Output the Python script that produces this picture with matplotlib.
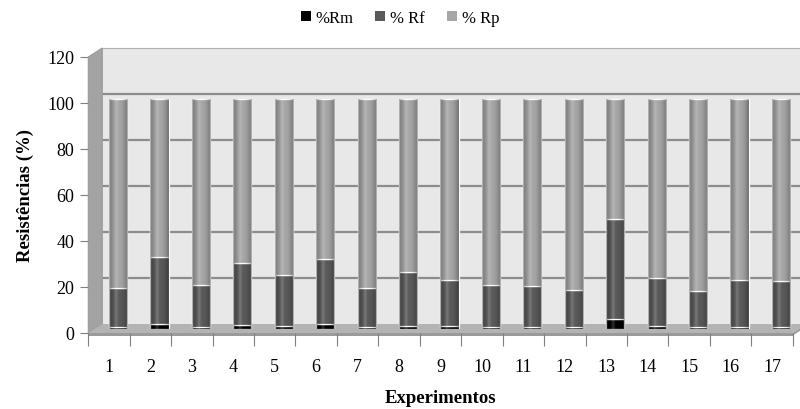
import numpy as np
import matplotlib
matplotlib.use("Agg")
import matplotlib.pyplot as plt
from matplotlib.patches import Polygon, Patch

# ---- data ----
experiments = [str(i) for i in range(1, 18)]
rm = [1.0, 2.3, 1.0, 1.8, 1.2, 2.0, 1.0, 1.5, 1.2, 1.0, 1.0, 0.8, 4.5, 1.2, 1.0, 1.0, 1.0]
rf_top = [17.7, 31.4, 19.2, 28.7, 23.5, 30.4, 17.8, 24.9, 21.4, 19.2, 18.8, 16.8, 47.8, 22.0, 16.4, 21.2, 21.0]
rf = [t - m for t, m in zip(rf_top, rm)]
rp = [100 - t for t in rf_top]
series_names = ["%Rm", "% Rf", "% Rp"]
series_colors = ["#000000", "#5a5a5a", "#a6a6a6"]
yticks = [0, 20, 40, 60, 80, 100, 120]

W, H = 800, 410
plt.rcParams['font.family'] = ['Liberation Serif', 'DejaVu Serif']
fig = plt.figure(figsize=(W / 100, H / 100), dpi=100)

def pos(left, right, y0, y120):
    return [left / W, 1 - y0 / H, (right - left) / W, (y0 - y120) / H]

x_left, x_right, y_zero, y_top = 88.3, 792.7, 334, 58
n = len(experiments)
xs = np.arange(1, n + 1)

# back wall
ax_back = fig.add_axes(pos(x_left + 14, x_right + 14, y_zero - 9, y_top - 9), zorder=0)
ax_back.set_xlim(0.5, n + 0.5)
ax_back.set_ylim(0, 120)
ax_back.set_facecolor("#e8e8e8")
for s in ax_back.spines.values():
    s.set_visible(False)
ax_back.spines['top'].set_visible(True)
ax_back.spines['top'].set_color("#b0b0b0")
ax_back.set_xticks([])
ax_back.set_yticks([])
for yv in yticks[1:-1]:
    ax_back.axhline(yv, color="#8c8c8c", lw=1.6)

# decoration layer: side wall and floor
ax_deco = fig.add_axes([0, 0, 1, 1], zorder=1)
ax_deco.set_xlim(0, W)
ax_deco.set_ylim(H, 0)
ax_deco.axis("off")
ax_deco.patch.set_alpha(0)
side = Polygon([(x_left, y_top), (x_left + 14, y_top - 9), (x_left + 14, y_zero - 9), (x_left, y_zero)],
               closed=True, facecolor="#a3a3a3", edgecolor="#9a9a9a", lw=0.8)
ax_deco.add_patch(side)
floor = Polygon([(x_left, y_zero), (x_right, y_zero), (x_right + 14, y_zero - 9), (x_left + 14, y_zero - 9)],
                closed=True, facecolor="#b3b3b3", edgecolor="none")
ax_deco.add_patch(floor)
floor_front = Polygon([(x_left, y_zero), (x_right, y_zero), (x_right, y_zero + 2.5), (x_left, y_zero + 2.5)],
                      closed=True, facecolor="#9a9a9a", edgecolor="none")
ax_deco.add_patch(floor_front)
floor_side = Polygon([(x_right, y_zero), (x_right + 14, y_zero - 9), (x_right + 14, y_zero - 6.5), (x_right, y_zero + 2.5)],
                     closed=True, facecolor="#9a9a9a", edgecolor="none")
ax_deco.add_patch(floor_side)

# bars
ax_bar = fig.add_axes(pos(x_left + 9, x_right + 9, y_zero - 4, y_top - 4), zorder=2)
ax_bar.set_xlim(0.5, n + 0.5)
ax_bar.set_ylim(0, 120)
ax_bar.axis("off")
ax_bar.patch.set_alpha(0)
bw = 0.44
bottom = np.zeros(n)
grad = np.linspace(-1, 1, 64)
shade = np.zeros((1, 64, 4))
shade[0, :, 3] = np.clip(np.abs(grad) ** 2.2, 0, 1) * 0.35
shade_w = np.ones((1, 64, 4))
shade_w[0, :, 3] = np.exp(-((grad + 0.25) / 0.18) ** 2) * 0.18
for vals, col in zip([rm, rf, rp], series_colors):
    bars = ax_bar.bar(xs, vals, bw, bottom=bottom, color=col, edgecolor="white", lw=0.9)
    for b in bars:
        x0, y0, w, h = b.get_x(), b.get_y(), b.get_width(), b.get_height()
        for img in (shade, shade_w):
            im = ax_bar.imshow(img, extent=(x0, x0 + w, y0, y0 + h), aspect="auto", zorder=3, interpolation="bilinear")
            im.set_clip_path(b)
    bottom += np.array(vals)
ax_bar.set_xlim(0.5, n + 0.5)
ax_bar.set_ylim(0, 120)

# front axes: ticks and labels
ax = fig.add_axes(pos(x_left, x_right, y_zero, y_top), zorder=3)
ax.patch.set_alpha(0)
ax.set_xlim(0.5, n + 0.5)
ax.set_ylim(0, 120)
for s in ax.spines.values():
    s.set_visible(False)
ax.set_yticks(yticks)
ax.set_yticklabels([str(v) for v in yticks], fontsize=13)
ax.tick_params(axis="y", length=6, color="#808080", width=0.8, pad=4)
ax.set_xticks(xs)
ax.set_xticklabels(experiments, fontsize=13)
ax.set_xticks(np.arange(0.5, n + 1), minor=True)
ax.tick_params(axis="x", which="major", length=0, pad=18)
ax.tick_params(axis="x", which="minor", length=9, color="#808080", width=0.8)
ax.set_ylabel("Resistências (%)", fontsize=13.5, fontweight="bold", labelpad=10)
ax.set_xlabel("Experimentos", fontsize=13.5, fontweight="bold", labelpad=10)

handles = [Patch(facecolor=c, edgecolor="none", label=l) for c, l in zip(series_colors, series_names)]
fig.legend(handles=handles, loc="upper center", bbox_to_anchor=(0.5, 1.01), ncol=3, frameon=False,
           fontsize=12, handlelength=0.6, handleheight=0.6, handletextpad=0.3, columnspacing=1.3)

fig.savefig("out.png", dpi=100)
